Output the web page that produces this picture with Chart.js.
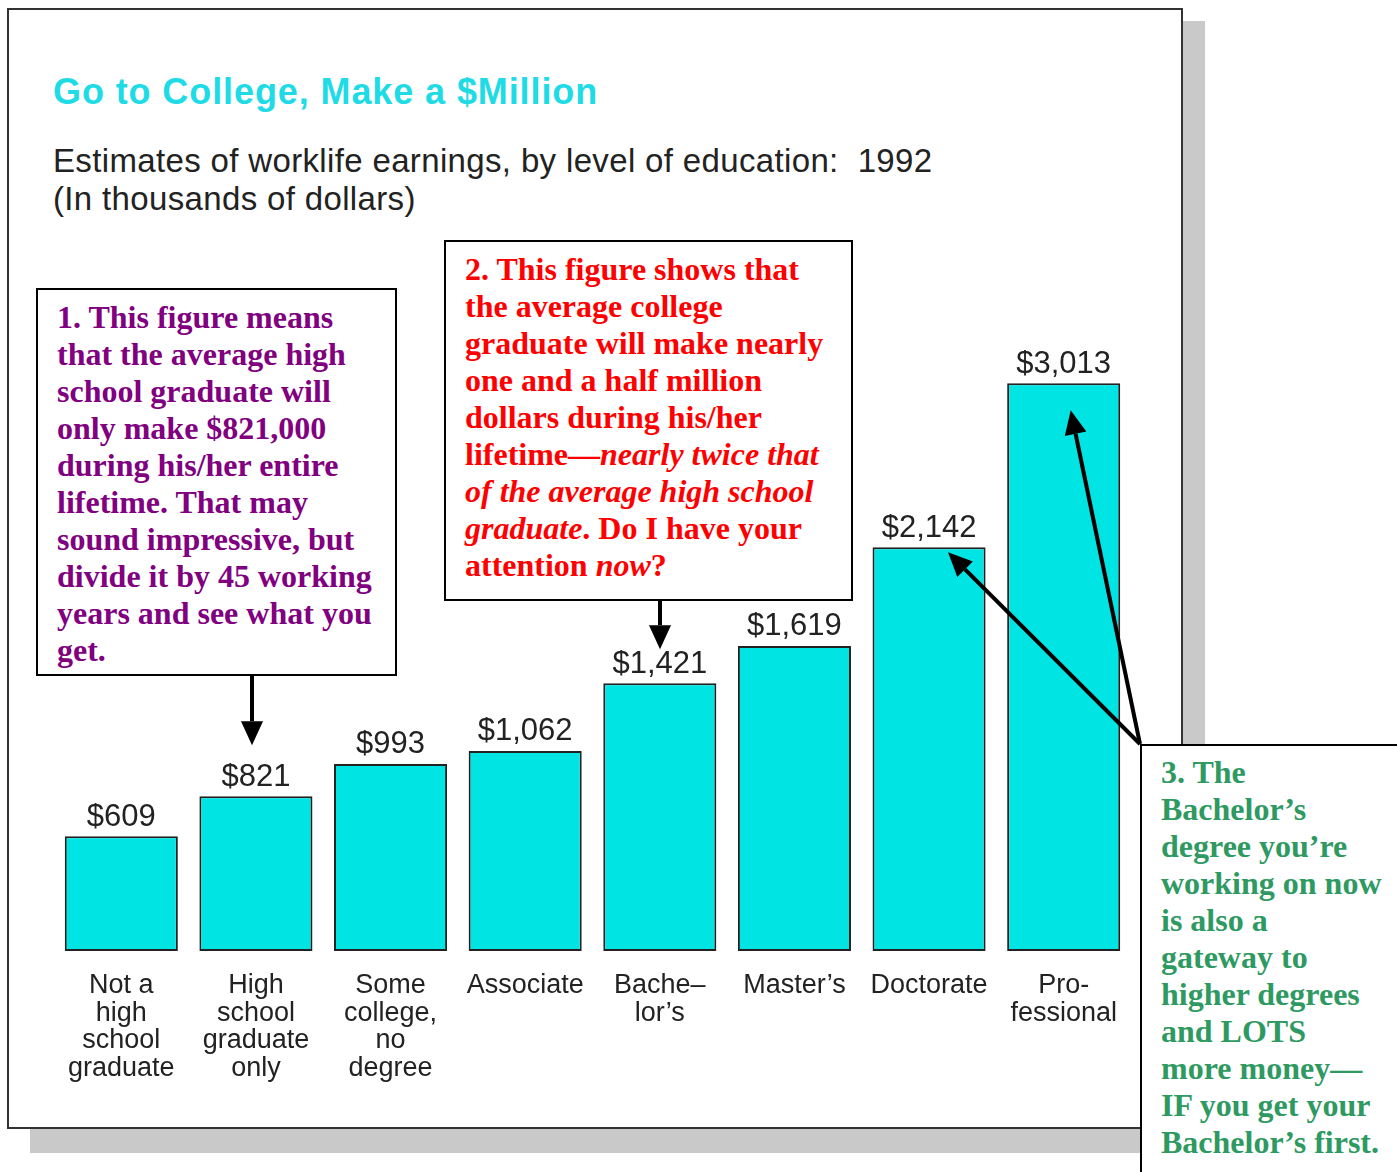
<!DOCTYPE html>
<html>
<head>
<meta charset="utf-8">
<script src="https://cdn.jsdelivr.net/npm/chart.js@4.4.0/dist/chart.umd.min.js"></script>
<style>
  html, body { margin: 0; padding: 0; background: #fff; }
  body { width: 1397px; height: 1172px; position: relative; overflow: hidden; }
  .shadow { position: absolute; background: #c9c9c9; }
  #frame { position: absolute; left: 7px; top: 8px; width: 1172px; height: 1117px; border: 2px solid #333; background: #fff; }
  #title { position: absolute; left: 53px; top: 70px; font: bold 36px "Liberation Sans", Arial, sans-serif; letter-spacing: 0.9px; color: #1edbe6; white-space: nowrap; line-height: 44px; }
  #subtitle { position: absolute; left: 53px; top: 142px; font: 33px "Liberation Sans", Arial, sans-serif; letter-spacing: 0.35px; color: #222; white-space: nowrap; line-height: 38px; }
  #chartWrap { position: absolute; left: 0; top: 0; width: 1397px; height: 1172px; }
  .note { position: absolute; background: #fff; border: 2px solid #000; font: bold 32px "Liberation Serif", "Times New Roman", serif; line-height: 37px; white-space: nowrap; box-sizing: border-box; }
  #note1 { left: 36px; top: 288px; width: 361px; height: 388px; padding: 9px 0 0 19px; color: #800080; }
  #note2 { left: 444px; top: 240px; width: 409px; height: 361px; padding: 9px 0 0 19px; color: #ff0000; }
  #note3 { left: 1140px; top: 744px; width: 270px; height: 440px; padding: 8px 0 0 19px; color: #2e9a62; border-right: none; border-bottom: none; }
</style>
</head>
<body>
<div class="shadow" style="left:1183px; top:21px; width:22px; height:1132px;"></div>
<div class="shadow" style="left:30px; top:1129px; width:1175px; height:24px;"></div>
<div id="frame"></div>
<div id="title">Go to College, Make a $Million</div>
<div id="subtitle">Estimates of worklife earnings, by level of education:&nbsp; 1992<br>(In thousands of dollars)</div>
<div id="chartWrap"><canvas id="bar-chart"></canvas></div>
<div class="note" id="note1">1. This figure means<br>that the average high<br>school graduate will<br>only make $821,000<br>during his/her entire<br>lifetime. That may<br>sound impressive, but<br>divide it by 45 working<br>years and see what you<br>get.</div>
<div class="note" id="note2">2. This figure shows that<br>the average college<br>graduate will make nearly<br>one and a half million<br>dollars during his/her<br>lifetime—<i>nearly twice that</i><br><i>of the average high school</i><br><i>graduate</i>. Do I have your<br>attention <i>now</i>?</div>
<div class="note" id="note3">3. The<br>Bachelor’s<br>degree you’re<br>working on now<br>is also a<br>gateway to<br>higher degrees<br>and LOTS<br>more money—<br>IF you get your<br>Bachelor’s first.</div>
<script>
const labels = [
  ['Not a', 'high', 'school', 'graduate'],
  ['High', 'school', 'graduate', 'only'],
  ['Some', 'college,', 'no', 'degree'],
  ['Associate'],
  ['Bache–', 'lor’s'],
  ['Master’s'],
  ['Doctorate'],
  ['Pro-', 'fessional'],
];
const earnings = [609, 821, 993, 1062, 1421, 1619, 2142, 3013];
const yMax = 3200;

// value labels above bars + annotation arrows
const overlay = {
  id: 'overlay',
  afterDatasetsDraw(chart) {
    const ctx = chart.ctx;
    const bars = chart.getDatasetMeta(0).data;
    ctx.save();
    ctx.fillStyle = '#222';
    ctx.font = '31px "Liberation Sans", Arial, sans-serif';
    ctx.textAlign = 'center';
    ctx.textBaseline = 'middle';
    bars.forEach((b, i) => {
      ctx.fillText('$' + earnings[i].toLocaleString('en-US'), b.x, b.y - 19);
    });

    function arrow(x1, y1, x2, y2) {
      const a = Math.atan2(y2 - y1, x2 - x1);
      const len = 24, half = 11;
      const bx = x2 - len * Math.cos(a), by = y2 - len * Math.sin(a);
      ctx.strokeStyle = '#000';
      ctx.lineWidth = 4;
      ctx.beginPath();
      ctx.moveTo(x1, y1);
      ctx.lineTo(bx, by);
      ctx.stroke();
      ctx.fillStyle = '#000';
      ctx.beginPath();
      ctx.moveTo(x2, y2);
      ctx.lineTo(bx + half * Math.sin(a), by - half * Math.cos(a));
      ctx.lineTo(bx - half * Math.sin(a), by + half * Math.cos(a));
      ctx.closePath();
      ctx.fill();
    }
    arrow(252, 676, 252, bars[1].y - 51);
    arrow(660, 601, 660, bars[4].y - 34);
    arrow(1140, 744, bars[6].x + 19, bars[6].y + 5);
    arrow(1140, 744, bars[7].x + 7, bars[7].y + 27);
    ctx.restore();
  }
};

const data = {
  labels: labels,
  datasets: [{
    data: earnings,
    backgroundColor: 'rgb(0, 228, 228)',
    borderColor: '#222',
    borderWidth: 2,
    borderSkipped: false,
    categoryPercentage: 1,
    barPercentage: 0.84,
  }]
};

const config = {
  type: 'bar',
  data: data,
  plugins: [overlay],
  options: {
    responsive: false,
    animation: false,
    layout: { padding: { left: 54, right: 266, top: 348, bottom: 0 } },
    plugins: { legend: { display: false }, tooltip: { enabled: false } },
    scales: {
      x: {
        grid: { display: false, drawTicks: false },
        border: { display: false },
        ticks: {
          color: '#222',
          font: { family: '"Liberation Sans", Arial, sans-serif', size: 27, lineHeight: 1.02 },
          padding: 21,
          maxRotation: 0,
          autoSkip: false,
        },
        afterFit(axis) { axis.height = 221; }
      },
      y: {
        display: false,
        min: 0,
        max: yMax,
      }
    }
  }
};

const canvas = document.getElementById('bar-chart');
canvas.width = 1397;
canvas.height = 1172;
const myChart = new Chart(canvas, config);
</script>
</body>
</html>
